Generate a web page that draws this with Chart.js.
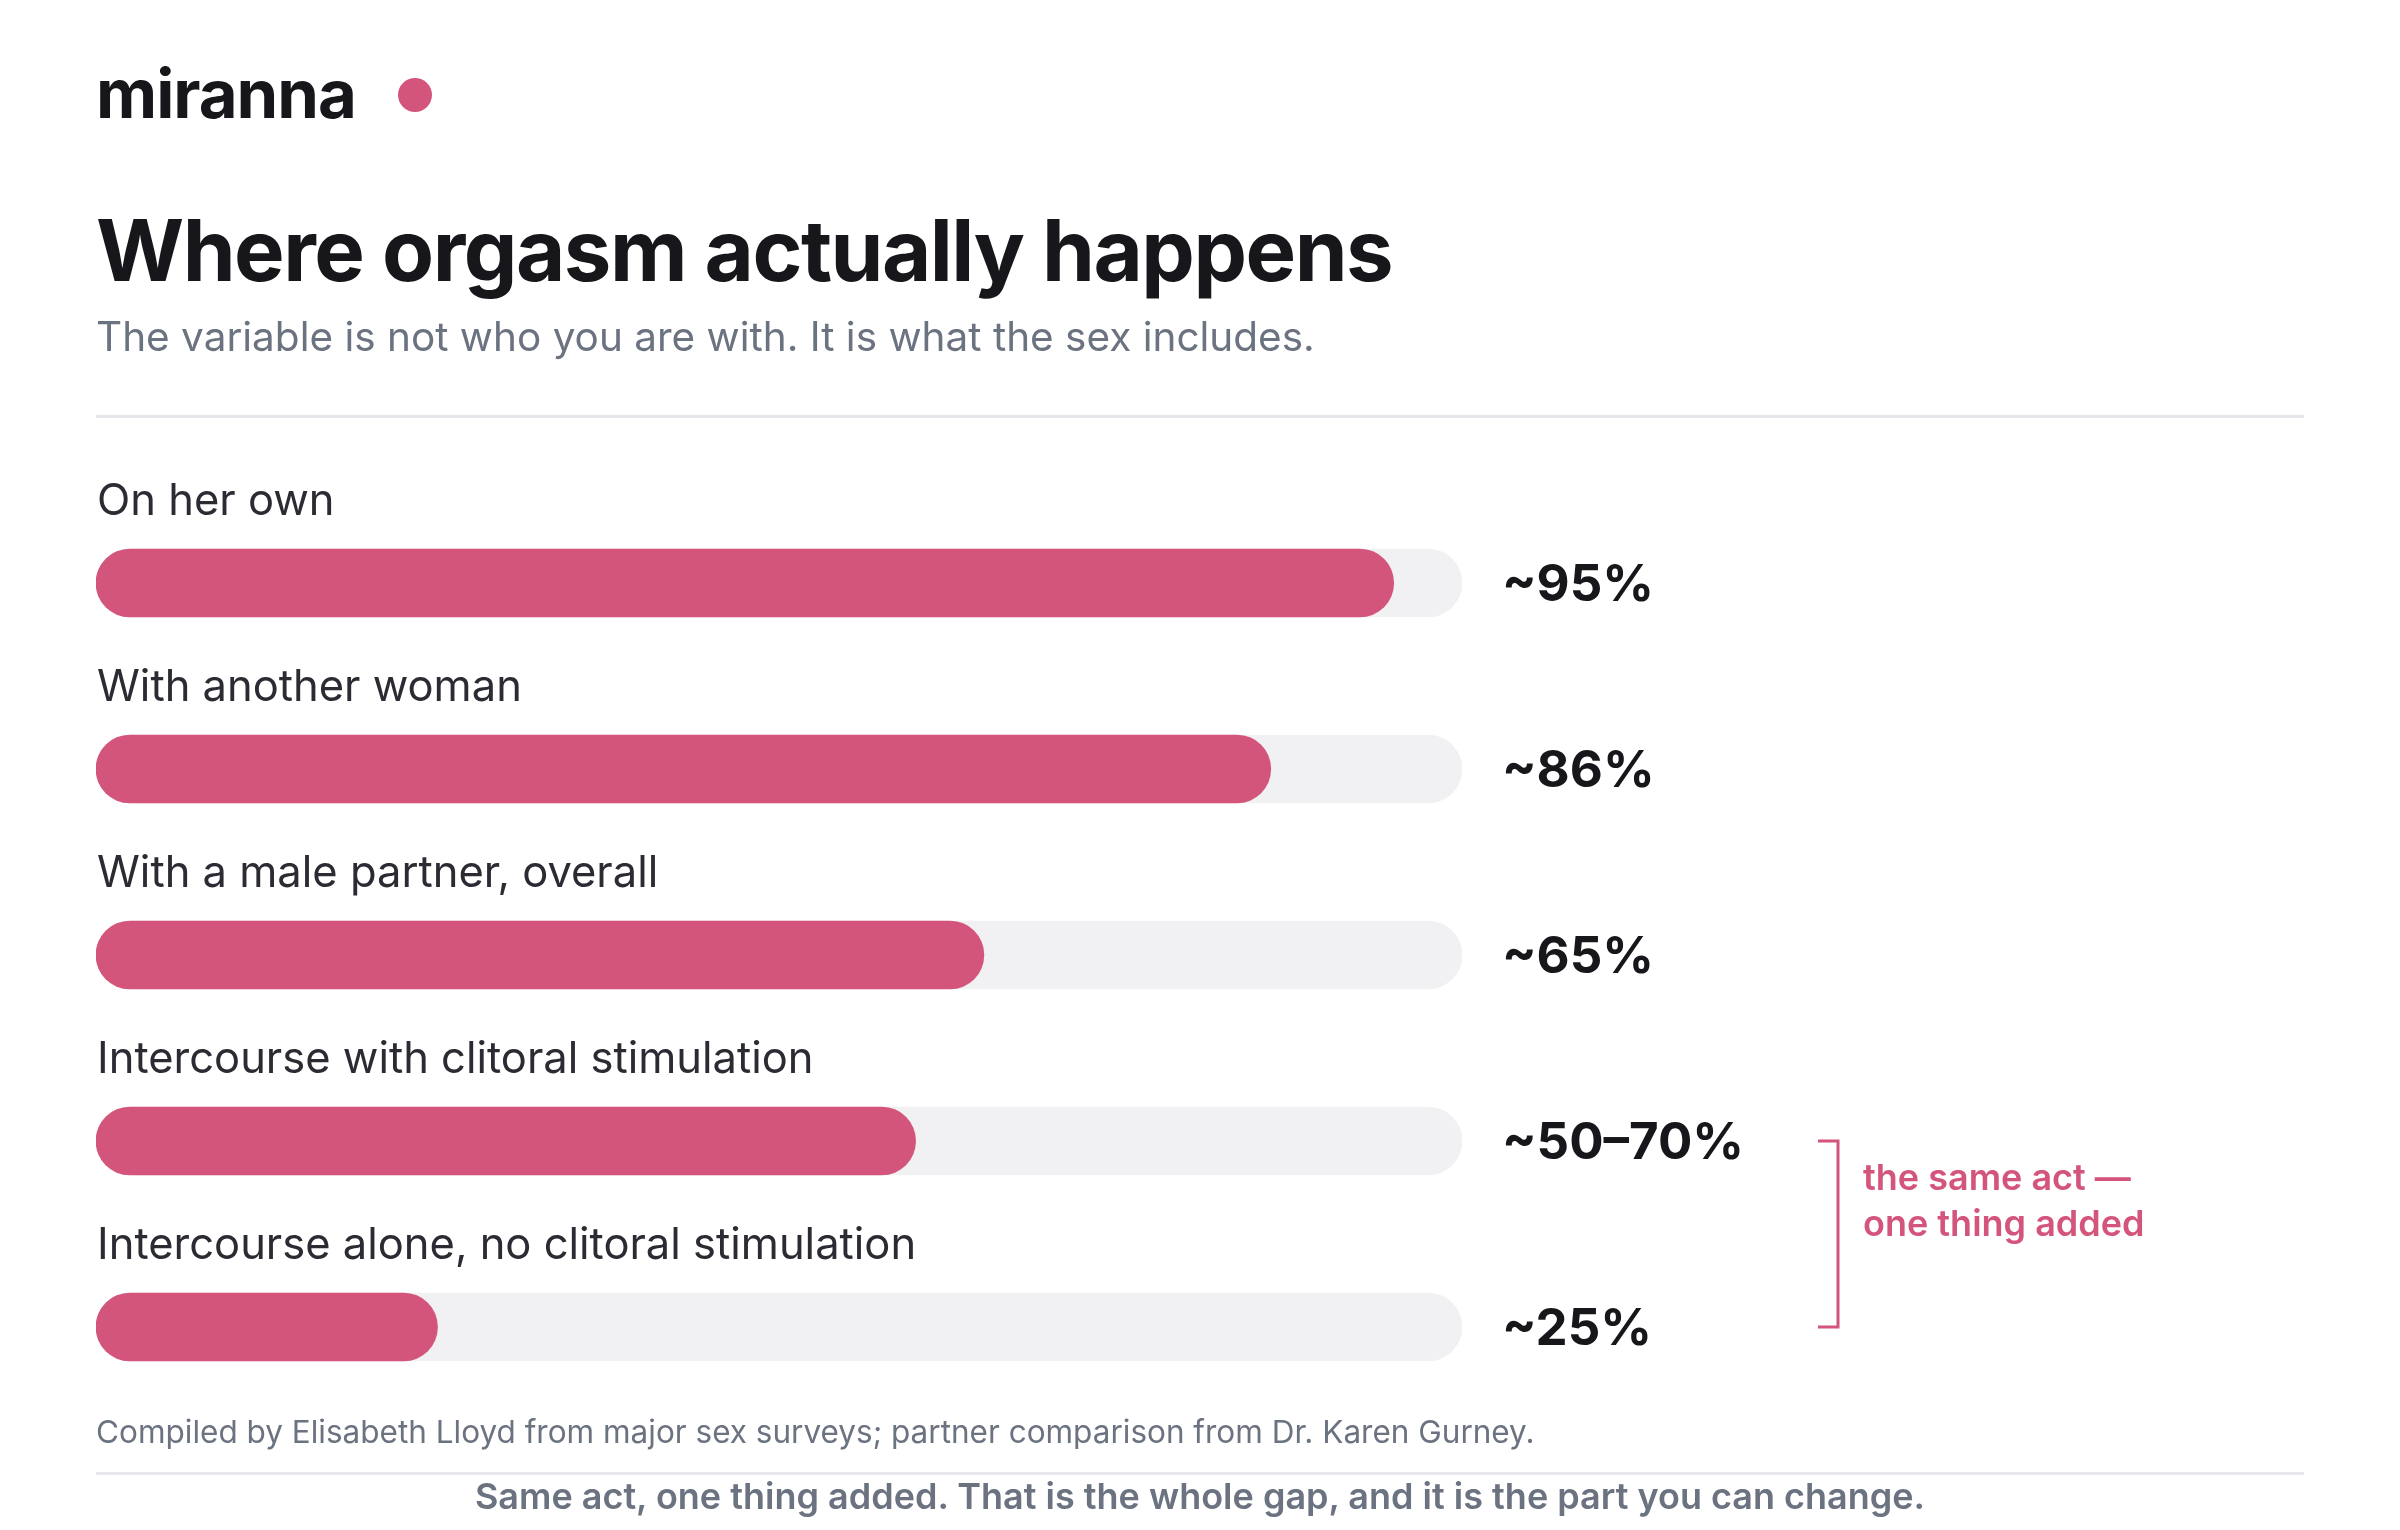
<!DOCTYPE html>
<html>
<head>
<meta charset="utf-8">
<script src="https://cdn.jsdelivr.net/npm/chart.js@4.4.1/dist/chart.umd.min.js"></script>
<style>
  html, body { margin: 0; padding: 0; background: #fff; }
  body { width: 2400px; height: 1530px; position: relative; overflow: hidden; font-family: Inter, "Noto Sans", sans-serif; }
  #chart { position: absolute; left: 0; top: 0; }
  .t { position: absolute; line-height: 1; white-space: nowrap; }
  #brand { left: 96px; top: 60px; font-size: 67px; font-weight: 700; color: #16161b; letter-spacing: -1px; }
  #dot { position: absolute; left: 398px; top: 78px; width: 34px; height: 34px; border-radius: 50%; background: #d4557c; }
  #title { left: 96px; top: 208px; font-size: 85px; font-weight: 700; color: #16161b; letter-spacing: -1.5px; }
  #subtitle { left: 96px; top: 317px; font-size: 40.5px; color: #6b7280; }
  .rule { position: absolute; left: 96px; width: 2208px; height: 3px; background: #e5e7eb; }
  #note { left: 96px; top: 1416px; font-size: 31.5px; color: #6b7280; }
  #takeaway { left: 96px; width: 2208px; text-align: center; top: 1478px; font-size: 36px; font-weight: 600; color: #6b7280; }
</style>
</head>
<body>
<canvas id="chart" width="2400" height="1530"></canvas>
<div class="t" id="brand">miranna</div>
<div id="dot"></div>
<div class="t" id="title">Where orgasm actually happens</div>
<div class="t" id="subtitle">The variable is not who you are with. It is what the sex includes.</div>
<div class="rule" style="top:415px"></div>
<div class="t" id="note">Compiled by Elisabeth Lloyd from major sex surveys; partner comparison from Dr. Karen Gurney.</div>
<div class="rule" style="top:1472px"></div>
<div class="t" id="takeaway">Same act, one thing added. That is the whole gap, and it is the part you can change.</div>
<script>
// data
const categories = [
  'On her own',
  'With another woman',
  'With a male partner, overall',
  'Intercourse with clitoral stimulation',
  'Intercourse alone, no clitoral stimulation'
];
const values = [95, 86, 65, 60, 25];
const valueLabels = ['~95%', '~86%', '~65%', '~50\u201370%', '~25%'];
const trackValues = [100, 100, 100, 100, 100];
const bracketRows = [3, 4];
const bracketText = ['the same act \u2014', 'one thing added'];

const PINK = '#d4557c';

const rowText = {
  id: 'rowText',
  afterDatasetsDraw(chart) {
    const ctx = chart.ctx;
    const x = chart.scales.x;
    const y = chart.scales.y;
    ctx.save();
    categories.forEach((c, i) => {
      const cy = y.getPixelForValue(i);
      ctx.fillStyle = '#2b2b33';
      ctx.font = '400 43.5px Inter, "Noto Sans", sans-serif';
      ctx.textBaseline = 'alphabetic';
      ctx.textAlign = 'left';
      ctx.fillText(c, x.left + 1, cy - 68);
      ctx.fillStyle = '#16161b';
      ctx.font = '700 51px Inter, "Noto Sans", sans-serif';
      ctx.fillText(valueLabels[i], x.getPixelForValue(100) + 40, cy + 18);
    });
    // bracket joining the two intercourse rows
    const y0 = y.getPixelForValue(bracketRows[0]);
    const y1 = y.getPixelForValue(bracketRows[1]);
    const bx = 1838;
    ctx.strokeStyle = PINK;
    ctx.lineWidth = 3;
    ctx.beginPath();
    ctx.moveTo(bx - 20, y0);
    ctx.lineTo(bx, y0);
    ctx.lineTo(bx, y1);
    ctx.lineTo(bx - 20, y1);
    ctx.stroke();
    const mid = (y0 + y1) / 2;
    ctx.fillStyle = PINK;
    ctx.font = '600 36px Inter, "Noto Sans", sans-serif';
    ctx.fillText(bracketText[0], bx + 25, mid - 44);
    ctx.fillText(bracketText[1], bx + 25, mid + 2);
    ctx.restore();
  }
};

new Chart(document.getElementById('chart'), {
  type: 'bar',
  data: {
    labels: categories,
    datasets: [
      {
        data: values,
        backgroundColor: PINK,
        borderRadius: 34,
        borderSkipped: false,
        barThickness: 68,
        grouped: false,
        order: 0
      },
      {
        data: trackValues,
        backgroundColor: '#f1f1f3',
        borderRadius: 34,
        borderSkipped: false,
        barThickness: 68,
        grouped: false,
        order: 1
      }
    ]
  },
  options: {
    indexAxis: 'y',
    responsive: false,
    animation: false,
    devicePixelRatio: 1,
    layout: { padding: { left: 96, right: 938, top: 490, bottom: 110 } },
    scales: {
      x: { min: 0, max: 100, display: false },
      y: { display: false }
    },
    plugins: {
      legend: { display: false },
      tooltip: { enabled: false }
    }
  },
  plugins: [rowText]
});
</script>
</body>
</html>
